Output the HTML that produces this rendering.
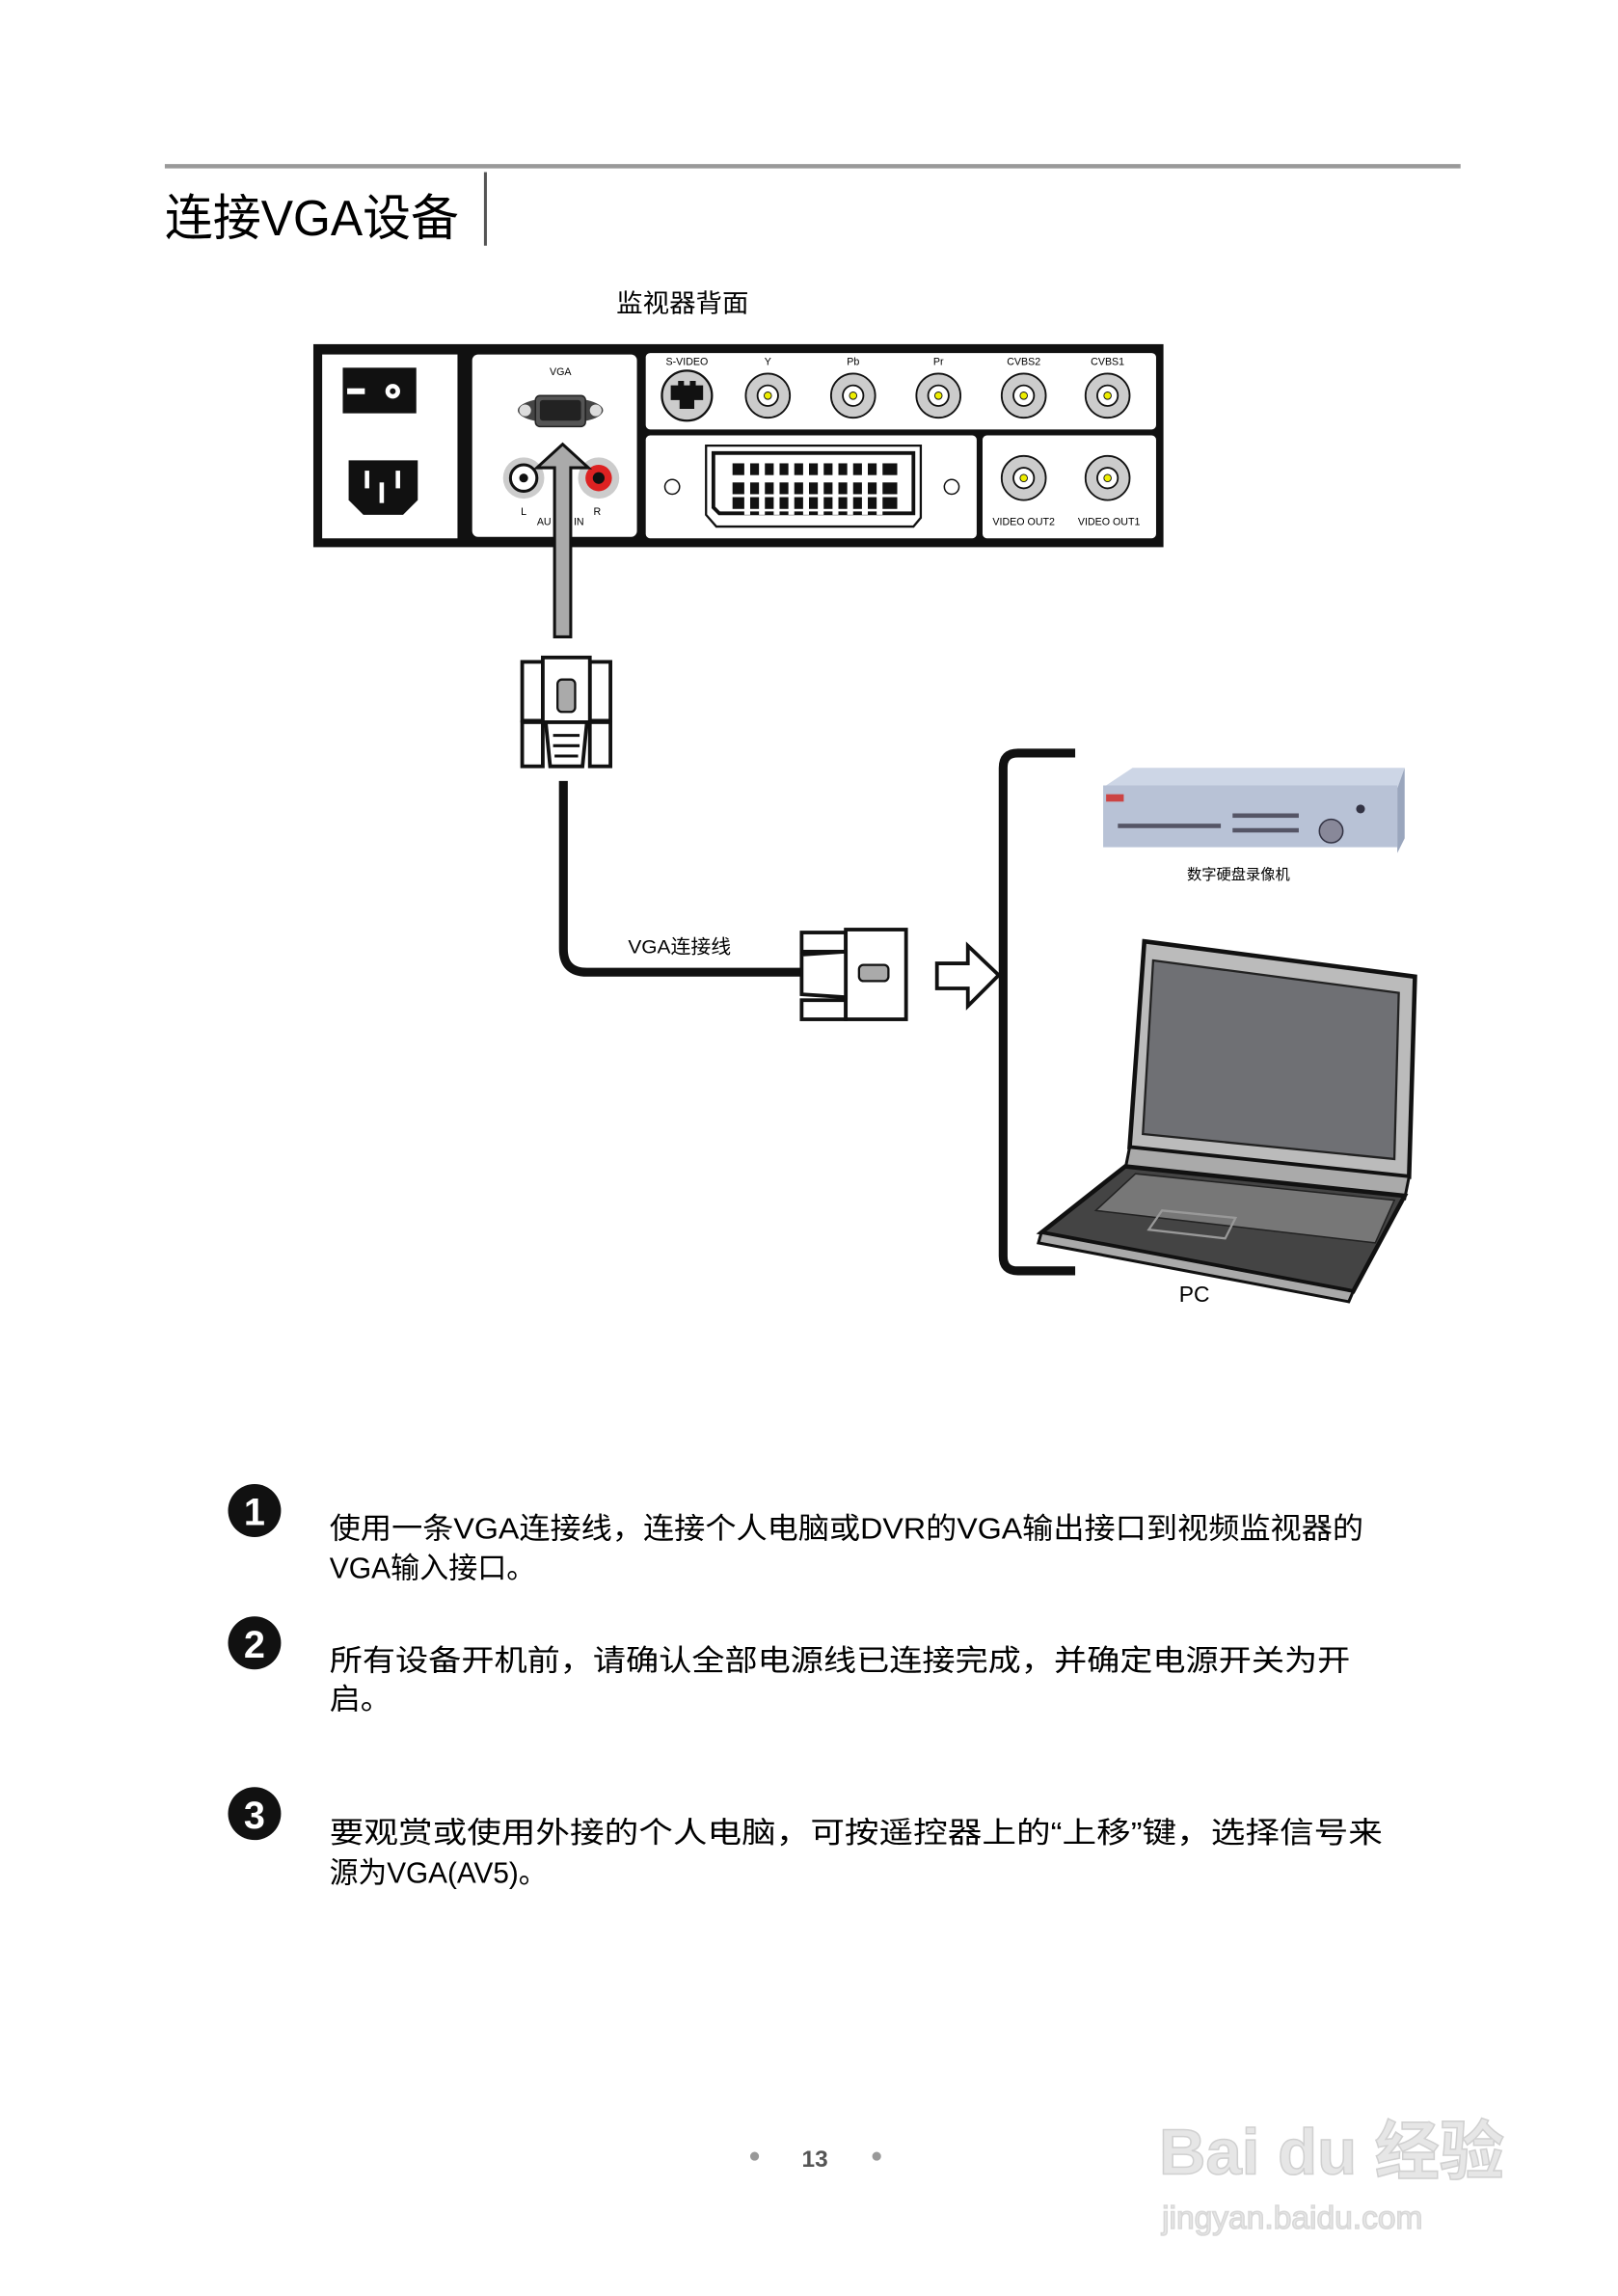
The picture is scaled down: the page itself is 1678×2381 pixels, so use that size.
<!DOCTYPE html>
<html><head><meta charset="utf-8"><style>
html,body{margin:0;padding:0;background:#fff;}
svg{display:block;}
text{font-family:"Liberation Sans","Noto Sans CJK SC",sans-serif;}
</style></head><body>
<svg width="1678" height="2381" viewBox="0 0 1100 1561" xmlns="http://www.w3.org/2000/svg">
<rect width="1100" height="1561" fill="#fff"/>
<!-- header -->
<line x1="112" y1="113" x2="993" y2="113" stroke="#999" stroke-width="3"/>
<text x="112" y="160" font-size="34" textLength="200" lengthAdjust="spacingAndGlyphs">连接VGA设备</text>
<line x1="330" y1="117" x2="330" y2="167" stroke="#555" stroke-width="2"/>
<text x="419" y="212" font-size="17" textLength="90" lengthAdjust="spacingAndGlyphs">监视器背面</text>

<!-- panel -->
<rect x="213" y="234" width="578" height="138" fill="#111"/>
<rect x="219" y="241" width="92" height="125" fill="#fff"/>
<rect x="321" y="241" width="112" height="124" rx="4" fill="#fff"/>
<rect x="439" y="240" width="347" height="52" rx="3" fill="#fff"/>
<rect x="439" y="296" width="225" height="70" rx="3" fill="#fff"/>
<rect x="668" y="296" width="118" height="70" rx="3" fill="#fff"/>
<!-- switch -->
<rect x="233" y="250" width="50" height="31" fill="#111"/>
<rect x="236" y="264" width="12" height="4" fill="#fff"/>
<circle cx="267" cy="266" r="5" fill="#fff"/><circle cx="267" cy="266" r="2" fill="#111"/>
<!-- power socket -->
<path d="M237 313 H284 V340 L274 350 H247 L237 340 Z" fill="#111"/>
<rect x="248" y="320" width="3" height="12" fill="#fff"/><rect x="269" y="320" width="3" height="12" fill="#fff"/><rect x="258" y="328" width="3" height="14" fill="#fff"/>
<!-- VGA -->
<text x="381" y="255" font-size="7" text-anchor="middle">VGA</text>
<ellipse cx="381" cy="279" rx="29" ry="9" fill="#444"/>
<rect x="364" y="269" width="34" height="21" rx="3" fill="#555" stroke="#222"/>
<rect x="367" y="272" width="28" height="14" rx="2" fill="#222"/>
<circle cx="357" cy="279" r="4" fill="#ddd"/><circle cx="405" cy="279" r="4" fill="#ddd"/>
<!-- RCA -->
<circle cx="356" cy="325" r="14" fill="#ccc"/><circle cx="356" cy="325" r="9" fill="#fff" stroke="#111" stroke-width="2"/><circle cx="356" cy="325" r="3" fill="#111"/>
<circle cx="407" cy="325" r="14" fill="#ccc"/><circle cx="407" cy="325" r="9" fill="#d22"/><circle cx="407" cy="325" r="4" fill="#111"/>
<text x="356" y="350" font-size="7" text-anchor="middle">L</text>
<text x="406" y="350" font-size="7" text-anchor="middle">R</text>
<text x="365" y="357" font-size="7">AU</text><text x="390" y="357" font-size="7">IN</text>
<!-- top row connectors -->
<g font-size="7" text-anchor="middle">
<text x="467" y="248">S-VIDEO</text><text x="522" y="248">Y</text><text x="580" y="248">Pb</text><text x="638" y="248">Pr</text><text x="696" y="248">CVBS2</text><text x="753" y="248">CVBS1</text>
<text x="696" y="357">VIDEO  OUT2</text><text x="754" y="357">VIDEO  OUT1</text>
</g>
<circle cx="467" cy="269" r="17" fill="#ccc" stroke="#111" stroke-width="1.5"/>
<path d="M456 262 h5 v-3 h4 v3 h4 v-3 h4 v3 h5 v10 h-6 v6 h-10 v-6 h-6 z" fill="#111"/>
<g fill="#ccc" stroke="#111" stroke-width="1.2">
<circle cx="522" cy="269" r="15"/><circle cx="580" cy="269" r="15"/><circle cx="638" cy="269" r="15"/><circle cx="696" cy="269" r="15"/><circle cx="753" cy="269" r="15"/>
<circle cx="696" cy="325" r="15"/><circle cx="753" cy="325" r="15"/>
</g>
<g fill="#fff" stroke="#111" stroke-width="1.2">
<circle cx="522" cy="269" r="7"/><circle cx="580" cy="269" r="7"/><circle cx="638" cy="269" r="7"/><circle cx="696" cy="269" r="7"/><circle cx="753" cy="269" r="7"/>
<circle cx="696" cy="325" r="7"/><circle cx="753" cy="325" r="7"/>
</g>
<g fill="#ee0" stroke="#111" stroke-width="0.6">
<circle cx="522" cy="269" r="2.5"/><circle cx="580" cy="269" r="2.5"/><circle cx="638" cy="269" r="2.5"/><circle cx="696" cy="269" r="2.5"/><circle cx="753" cy="269" r="2.5"/>
<circle cx="696" cy="325" r="2.5"/><circle cx="753" cy="325" r="2.5"/>
</g>
<!-- scart -->
<circle cx="457" cy="331" r="5" fill="#fff" stroke="#111"/>
<circle cx="647" cy="331" r="5" fill="#fff" stroke="#111"/>
<path d="M480 303 H626 V352 L621 358 H487 L480 350 Z" fill="#fff" stroke="#111" stroke-width="1.5"/>
<path d="M485 308 H621 V349 H489 L485 345 Z" fill="#fff" stroke="#111" stroke-width="2.5"/>
<g fill="#111">
<rect x="498" y="315" width="112" height="8" />
<rect x="498" y="328" width="112" height="8"/>
<rect x="498" y="338" width="112" height="8"/>
</g>
<g stroke="#fff" stroke-width="4">
<path d="M508 312 V350 M518 312 V350 M528 312 V350 M538 312 V350 M548 312 V350 M558 312 V350 M568 312 V350 M578 312 V350 M588 312 V350 M598 312 V350"/>
</g>
<!-- arrow -->
<path d="M377 433 V318 H365 L382.5 302 L400 318 H388 V433 Z" fill="#aaa" stroke="#111" stroke-width="2"/>
<!-- top connector -->
<g fill="#fff" stroke="#111" stroke-width="2.5">
<rect x="355" y="450" width="14" height="40"/><rect x="401" y="450" width="14" height="40"/>
<rect x="369" y="447" width="32" height="45"/>
<rect x="355" y="491" width="14" height="30"/><rect x="401" y="491" width="14" height="30"/>
<path d="M371 491 H399 L396 521 H374 Z"/>
</g>
<rect x="379" y="462" width="12" height="22" rx="3" fill="#aaa" stroke="#111" stroke-width="1.5"/>
<path d="M376 500 H394 M376 507 H394 M377 514 H393" stroke="#111" stroke-width="2"/>
<!-- cable -->
<path d="M383 531 V645 Q383 661 399 661 H545" fill="none" stroke="#111" stroke-width="6"/>
<text x="427" y="648" font-size="13" textLength="70" lengthAdjust="spacingAndGlyphs">VGA连接线</text>
<!-- right connector -->
<g fill="#fff" stroke="#111" stroke-width="2.5">
<rect x="545" y="634" width="30" height="13"/><rect x="545" y="680" width="30" height="13"/>
<rect x="575" y="632" width="41" height="61"/>
<path d="M545 649 L575 647 V678 L545 676 Z"/>
</g>
<rect x="584" y="656" width="20" height="11" rx="3" fill="#aaa" stroke="#111" stroke-width="1.5"/>
<!-- hollow arrow -->
<path d="M637 655 H658 V643 L679 663 L658 684 V672 H637 Z" fill="#fff" stroke="#111" stroke-width="2.5"/>
<!-- bracket -->
<path d="M731 512 H692 Q682 512 682 522 V854 Q682 864 692 864 H731" fill="none" stroke="#111" stroke-width="6"/>
<!-- DVR -->
<path d="M752 534 L770 522 H955 L950 536 Z" fill="#cdd6e6"/>
<rect x="750" y="534" width="200" height="42" fill="#b8c2d6"/>
<path d="M950 536 L955 522 V570 L950 580 Z" fill="#9aa6bd"/>
<rect x="752" y="540" width="12" height="5" fill="#c44"/>
<g fill="#556">
<rect x="760" y="560" width="70" height="3"/><rect x="838" y="553" width="45" height="3"/><rect x="838" y="563" width="45" height="3"/>
</g>
<circle cx="905" cy="565" r="8" fill="#889" stroke="#334"/>
<circle cx="925" cy="550" r="3" fill="#334"/>
<text x="842" y="598" font-size="10" text-anchor="middle">数字硬盘录像机</text>
<!-- laptop -->
<path d="M778 640 L962 664 L958 800 L768 780 Z" fill="#bbb" stroke="#111" stroke-width="3"/>
<path d="M784 653 L951 675 L948 788 L777 771 Z" fill="#6f7074" stroke="#222" stroke-width="1.5"/>
<path d="M768 780 L958 800 L955 815 L765 795 Z" fill="#aaa" stroke="#111" stroke-width="2"/>
<path d="M765 793 L955 813 L920 878 L708 838 Z" fill="#444" stroke="#111" stroke-width="3"/>
<path d="M772 798 L948 816 L935 845 L745 823 Z" fill="#777" stroke="#222"/>
<path d="M708 838 L920 878 L917 885 L706 845 Z" fill="#aaa" stroke="#111" stroke-width="2"/>
<path d="M790 823 L840 828 L833 842 L781 836 Z" fill="none" stroke="#999" stroke-width="1.5"/>
<text x="812" y="885" font-size="15" text-anchor="middle">PC</text>
<!-- steps -->
<g fill="#111"><circle cx="173" cy="1027" r="18"/><circle cx="173" cy="1117" r="18"/><circle cx="173" cy="1233" r="18"/></g>
<g fill="#fff" font-size="26" font-weight="bold" text-anchor="middle">
<text x="173" y="1037">1</text><text x="173" y="1127">2</text><text x="173" y="1243">3</text>
</g>
<g font-size="20">
<text x="224" y="1046" textLength="703" lengthAdjust="spacingAndGlyphs">使用一条VGA连接线，连接个人电脑或DVR的VGA输出接口到视频监视器的</text>
<text x="224" y="1073" textLength="140" lengthAdjust="spacingAndGlyphs">VGA输入接口。</text>
<text x="224" y="1136" textLength="694" lengthAdjust="spacingAndGlyphs">所有设备开机前，请确认全部电源线已连接完成，并确定电源开关为开</text>
<text x="224" y="1162" textLength="42" lengthAdjust="spacingAndGlyphs">启。</text>
<text x="224" y="1253" textLength="716" lengthAdjust="spacingAndGlyphs">要观赏或使用外接的个人电脑，可按遥控器上的“上移”键，选择信号来</text>
<text x="224" y="1280" textLength="148" lengthAdjust="spacingAndGlyphs">源为VGA(AV5)。</text>
</g>
<!-- footer -->
<circle cx="513" cy="1466" r="3" fill="#999"/><circle cx="596" cy="1466" r="3" fill="#999"/>
<text x="554" y="1473" font-size="16" font-weight="bold" fill="#555" text-anchor="middle">13</text>
<text x="788" y="1478" font-size="44" font-weight="bold" fill="#e6e6e6" stroke="#d0d0d0">Bai du 经验</text>
<text x="790" y="1515" font-size="22" fill="#e6e6e6" stroke="#d8d8d8">jingyan.baidu.com</text>
</svg>
</body></html>
